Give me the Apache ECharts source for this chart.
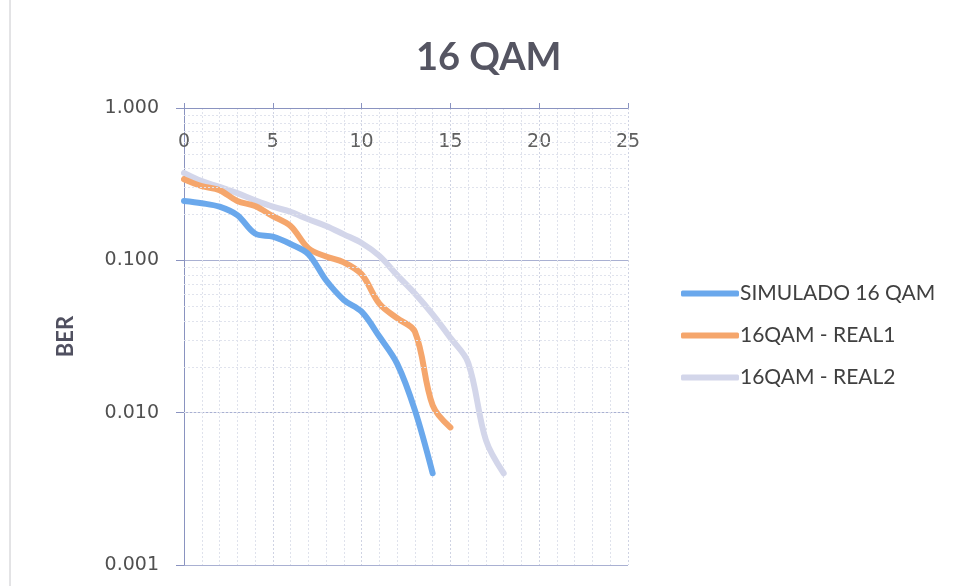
<!DOCTYPE html>
<html>
<head>
<meta charset="utf-8">
<script src="https://cdn.jsdelivr.net/npm/echarts@6/dist/echarts.min.js"></script>
<style>html,body{margin:0;padding:0;background:#fff}#c{width:959px;height:586px}</style>
</head>
<body>
<div id="c"></div>
<script>
const snr = [0,1,2,3,4,5,6,7,8,9,10,11,12,13,14,15,16,17,18];
const simulado = [0.245,0.237,0.225,0.198,0.150,0.143,0.128,0.110,0.074,0.055,0.046,0.0316,0.021,0.0104,0.0040];
const real1 = [0.341,0.307,0.289,0.245,0.227,0.195,0.168,0.120,0.106,0.097,0.081,0.052,0.0417,0.034,0.0112,0.0080];
const real2 = [0.375,0.331,0.304,0.276,0.248,0.225,0.208,0.186,0.168,0.148,0.130,0.107,0.080,0.0606,0.0442,0.031,0.0213,0.0066,0.0040];
const seriesNames = ['SIMULADO 16 QAM','16QAM - REAL1','16QAM - REAL2'];
const yMinorTicks = [];
[0.001,0.01,0.1].forEach(d => { for (let k = 2; k <= 9; k++) yMinorTicks.push(+(d*k).toPrecision(3)); });

const pair = arr => arr.map((v,i) => [snr[i], v]);
const colors = ['#6aa8ec','#f5a66c','#d3d6ea'];
const font = 'Lato, "Open Sans", sans-serif';
const numFont = '"DejaVu Sans", sans-serif';

const chart = echarts.init(document.getElementById('c'));
chart.setOption({
  backgroundColor: '#fff',
  animation: false,
  title: {
    text: '16 QAM', left: 411, top: 34,
    textStyle: {fontFamily: font, fontSize: 38, fontWeight: 'bold', color: '#555562'}
  },
  legend: {
    orient: 'vertical', left: 676, top: 278, itemGap: 21,
    icon: 'roundRect', itemWidth: 58, itemHeight: 6,
    textStyle: {fontFamily: font, fontSize: 21, color: '#404040', padding: [0,0,0,-4]},
    data: seriesNames
  },
  graphic: [{
    type: 'line', shape: {x1: 10, y1: 0, x2: 10, y2: 586},
    style: {stroke: '#c8c8cc', lineWidth: 1}
  }],
  grid: {left: 184, right: 331, top: 108, bottom: 21},
  xAxis: {
    type: 'value', position: 'top', min: 0, max: 25, interval: 5,
    axisLine: {show: true, lineStyle: {color: '#8a93c0'}},
    axisTick: {show: true, length: 5, lineStyle: {color: '#8a93c0'}},
    axisLabel: {inside: true, margin: 25, fontFamily: numFont, fontSize: 19, color: '#606060'},
    splitLine: {show: true, lineStyle: {color: '#cfd3e3', type: [2,2]}},
    minorTick: {show: false, splitNumber: 5},
    minorSplitLine: {show: true, lineStyle: {color: '#dfe2ec', type: [2,2]}}
  },
  yAxis: {
    type: 'log', logBase: 10, min: 0.001, max: 1,
    name: 'BER', nameLocation: 'middle', nameGap: 107,
    nameTextStyle: {fontFamily: font, fontSize: 22, fontWeight: 'bold', color: '#505060'},
    axisLine: {show: true, lineStyle: {color: '#8a93c0'}},
    axisTick: {show: true, length: 8, lineStyle: {color: '#8a93c0'}},
    axisLabel: {margin: 25, fontFamily: numFont, fontSize: 19, color: '#505050',
      formatter: v => v.toFixed(3)},
    splitLine: {show: true, lineStyle: {color: '#a9b0d2'}}
  },
  series: [
    {name: seriesNames[0], type: 'line', data: pair(simulado), smooth: 0.35, showSymbol: false,
     lineStyle: {width: 6, color: colors[0], cap: 'round'}, itemStyle: {color: colors[0]}, z: 5,
     markLine: {silent: true, symbol: 'none', label: {show: false},
       lineStyle: {color: '#e0e3ed', width: 1, type: [2,2]},
       data: yMinorTicks.map(v => ({yAxis: v}))}},
    {name: seriesNames[1], type: 'line', data: pair(real1), smooth: 0.35, showSymbol: false,
     lineStyle: {width: 6, color: colors[1], cap: 'round'}, itemStyle: {color: colors[1]}, z: 4},
    {name: seriesNames[2], type: 'line', data: pair(real2), smooth: 0.35, showSymbol: false,
     lineStyle: {width: 6, color: colors[2], cap: 'round'}, itemStyle: {color: colors[2]}, z: 3}
  ]
});
</script>
</body>
</html>
